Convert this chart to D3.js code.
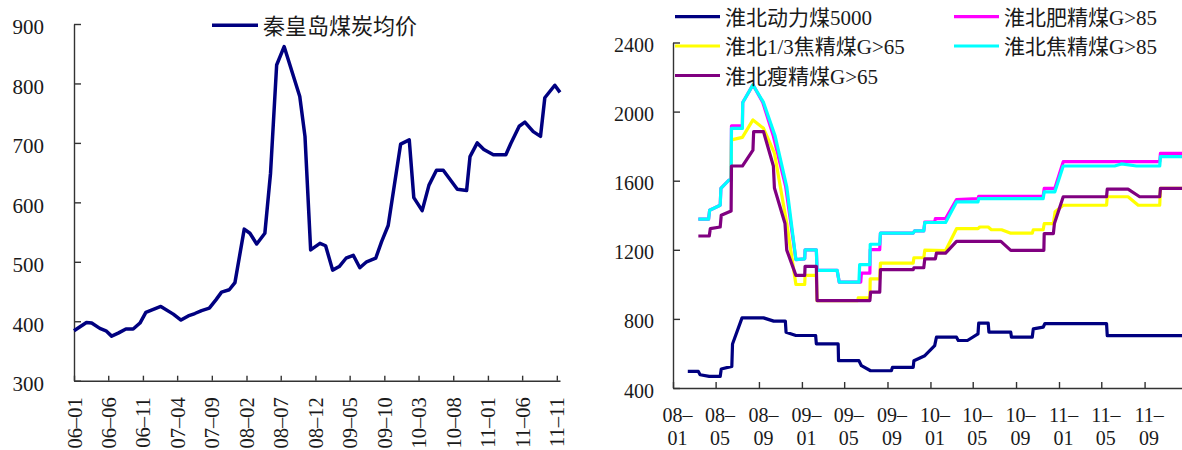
<!DOCTYPE html>
<html><head><meta charset="utf-8">
<script src="https://cdn.jsdelivr.net/npm/d3@7"></script>
<style>
html,body{margin:0;padding:0;background:#fff;overflow:hidden;}
svg{display:block;}
text{font-family:"Liberation Serif","Noto Sans CJK SC",serif;fill:#1a1a1a;}
.axis path,.axis line{stroke:#333;stroke-width:1.4;}
</style></head><body>
<svg id="c" width="1182" height="450"></svg>
<script>
// ---------- Left chart data ----------
const qhdName = '秦皇岛煤炭均价';
const qhdSeries = [['2006-01-01',384],['2006-02-25',398],['2006-03-20',397],['2006-04-25',388],['2006-05-22',384],['2006-06-16',375],['2006-07-15',380],['2006-08-18',387],['2006-09-19',387],['2006-10-19',397],['2006-11-14',415],['2007-01-19',425],['2007-03-15',412],['2007-04-18',402],['2007-05-20',409],['2007-06-18',413],['2007-07-18',418],['2007-08-21',422],['2007-09-19',436],['2007-10-14',449],['2007-11-17',453],['2007-12-12',465],['2008-01-22',555],['2008-02-16',548],['2008-03-17',530],['2008-04-22',548],['2008-05-17',649],['2008-06-13',831],['2008-07-16',862],['2008-09-23',778],['2008-10-16',711],['2008-11-10',520],['2008-12-21',531],['2009-01-15',527],['2009-02-15',486],['2009-03-16',492],['2009-04-15',506],['2009-05-17',511],['2009-06-15',490],['2009-07-15',500],['2009-08-24',506],['2009-09-19',534],['2009-10-18',561],['2009-12-12',698],['2010-01-19',705],['2010-02-08',608],['2010-03-17',586],['2010-04-16',629],['2010-05-19',654],['2010-06-18',654],['2010-08-19',622],['2010-09-29',620],['2010-10-14',677],['2010-11-15',700],['2010-12-14',689],['2011-01-25',680],['2011-03-21',680],['2011-04-12',699],['2011-05-19',728],['2011-06-13',735],['2011-07-20',719],['2011-08-21',711],['2011-09-09',776],['2011-10-23',797],['2011-11-15',785]];
const leftYTicks = [300,400,500,600,700,800,900];
const leftXTickLabels = ['06-01','06-06','06-11','07-04','07-09','08-02','08-07','08-12','09-05','09-10','10-03','10-08','11-01','11-06','11-11'];
const leftXDomain = ['2006-01-01','2011-11-15'];

// ---------- Right chart data ----------
const rightNames = ['淮北动力煤5000','淮北肥精煤G>85','淮北1/3焦精煤G>65','淮北焦精煤G>85','淮北瘦精煤G>65'];
const dongliSeries = [['2008-02-12',496],['2008-03-13',496],['2008-03-18',477],['2008-04-13',467],['2008-05-14',467],['2008-05-17',510],['2008-06-16',525],['2008-06-18',655],['2008-07-15',806],['2008-09-14',806],['2008-10-13',787],['2008-11-15',787],['2008-11-17',723],['2008-12-15',704],['2009-02-09',704],['2009-02-11',655],['2009-04-14',655],['2009-04-15',558],['2009-06-12',558],['2009-06-19',529],['2009-07-15',500],['2009-09-12',500],['2009-09-15',519],['2009-11-13',519],['2009-11-15',558],['2009-12-16',587],['2010-01-13',645],['2010-01-18',694],['2010-03-16',694],['2010-03-21',675],['2010-04-16',675],['2010-05-16',713],['2010-05-18',775],['2010-06-14',775],['2010-06-16',723],['2010-08-17',723],['2010-08-19',694],['2010-10-17',694],['2010-10-20',742],['2010-11-17',752],['2010-11-22',773],['2011-05-16',773],['2011-05-18',703],['2011-12-20',703]];
const fei85Series = [['2008-03-13',1377],['2008-04-11',1377],['2008-04-14',1429],['2008-05-14',1458],['2008-05-16',1555],['2008-06-08',1604],['2008-06-14',1604],['2008-06-15',1917],['2008-07-16',1917],['2008-07-17',2053],['2008-08-15',2155],['2008-09-12',2053],['2008-10-12',1858],['2008-11-16',1565],['2008-12-15',1143],['2009-01-09',1148],['2009-01-10',1200],['2009-02-11',1200],['2009-02-13',1081],['2009-04-11',1081],['2009-04-17',1013],['2009-06-17',1013],['2009-06-19',1065],['2009-07-13',1065],['2009-07-14',1201],['2009-08-10',1201],['2009-08-12',1297],['2009-11-13',1297],['2009-11-17',1309],['2009-12-13',1309],['2009-12-16',1361],['2010-01-13',1361],['2010-01-15',1381],['2010-02-13',1381],['2010-03-16',1491],['2010-05-16',1496],['2010-05-18',1510],['2010-11-17',1510],['2010-11-20',1555],['2010-12-20',1555],['2011-01-13',1710],['2011-10-14',1710],['2011-10-16',1758],['2011-12-20',1758]];
const jiao65Series = [['2008-06-14',1604],['2008-06-15',1836],['2008-07-16',1851],['2008-08-15',1952],['2008-09-14',1903],['2008-10-15',1760],['2008-11-19',1352],['2008-12-15',999],['2009-01-09',999],['2009-01-10',1052],['2009-02-11',1052],['2009-02-13',906],['2009-06-09',906],['2009-06-10',922],['2009-07-13',922],['2009-07-14',1032],['2009-08-10',1032],['2009-08-12',1123],['2009-11-13',1123],['2009-11-15',1154],['2009-12-13',1154],['2009-12-16',1198],['2010-02-13',1196],['2010-03-16',1322],['2010-05-16',1322],['2010-05-21',1332],['2010-06-14',1332],['2010-06-23',1316],['2010-07-22',1316],['2010-08-17',1296],['2010-10-17',1296],['2010-10-20',1316],['2010-11-17',1316],['2010-11-20',1351],['2010-12-16',1351],['2010-12-21',1420],['2011-01-13',1458],['2011-05-16',1458],['2011-05-18',1507],['2011-07-16',1507],['2011-08-14',1458],['2011-10-14',1458],['2011-10-16',1555],['2011-12-20',1555]];
const jiao85Series = [['2008-03-13',1377],['2008-04-11',1377],['2008-04-14',1429],['2008-05-14',1458],['2008-05-16',1555],['2008-06-08',1604],['2008-06-14',1604],['2008-06-15',1903],['2008-07-16',1903],['2008-07-17',2053],['2008-08-15',2155],['2008-09-14',2053],['2008-10-17',1858],['2008-11-19',1565],['2008-12-15',1143],['2009-01-09',1148],['2009-01-10',1200],['2009-02-11',1200],['2009-02-13',1081],['2009-04-11',1081],['2009-04-17',1013],['2009-06-12',1013],['2009-06-14',1114],['2009-07-13',1114],['2009-07-14',1232],['2009-08-10',1232],['2009-08-12',1297],['2009-11-13',1297],['2009-11-17',1309],['2009-12-13',1309],['2009-12-16',1358],['2010-02-13',1358],['2010-03-16',1477],['2010-05-16',1477],['2010-05-18',1496],['2010-11-17',1496],['2010-11-20',1535],['2010-12-20',1535],['2011-01-13',1685],['2011-06-08',1685],['2011-06-27',1697],['2011-08-09',1685],['2011-10-14',1685],['2011-10-16',1739],['2011-12-20',1739]];
const shou65Series = [['2008-03-13',1280],['2008-04-13',1280],['2008-04-16',1323],['2008-05-14',1332],['2008-05-17',1400],['2008-06-14',1425],['2008-06-15',1685],['2008-07-16',1685],['2008-08-15',1777],['2008-08-17',1884],['2008-09-14',1884],['2008-10-12',1685],['2008-10-15',1558],['2008-11-14',1352],['2008-11-19',1198],['2008-12-15',1052],['2009-01-09',1052],['2009-01-10',1104],['2009-02-11',1104],['2009-02-13',906],['2009-07-13',906],['2009-07-15',955],['2009-08-10',955],['2009-08-12',1085],['2009-11-13',1085],['2009-11-15',1096],['2009-12-13',1096],['2009-12-16',1148],['2010-01-15',1148],['2010-01-18',1181],['2010-02-13',1181],['2010-03-16',1249],['2010-07-20',1249],['2010-08-17',1197],['2010-11-19',1197],['2010-11-20',1294],['2010-12-16',1294],['2010-12-19',1352],['2011-01-13',1507],['2011-05-16',1507],['2011-05-18',1551],['2011-07-16',1551],['2011-08-18',1507],['2011-10-14',1507],['2011-10-16',1555],['2011-12-20',1555]];
const rightYTicks = [400,800,1200,1600,2000,2400];
const rightXTickLabels = ['08-01','08-05','08-09','09-01','09-05','09-09','10-01','10-05','10-09','11-01','11-05','11-09'];
const rightXDomain = ['2008-01-01','2011-12-31'];

// ---------- Drawing ----------
const FONT = '"Liberation Serif","Noto Sans CJK SC",serif';
const parseDay = d3.timeParse('%Y-%m-%d');
const parseTick = d3.timeParse('%y-%m');
const dash = s => s.replace('-', '–');
const svg = d3.select('#c');

// LEFT
(function(){
  const x = d3.scaleTime().domain(leftXDomain.map(parseDay)).range([74, 560]);
  const y = d3.scaleLinear().domain([300, 900]).range([380.7, 24]);
  const g = svg.append('g');
  const ya = g.append('g').attr('class','axis').attr('transform','translate(74,0)')
    .call(d3.axisLeft(y).tickValues(leftYTicks).tickSizeInner(-7).tickSizeOuter(0).tickPadding(30).tickFormat(d3.format('d')));
  ya.attr('font-family', FONT);
  ya.selectAll('text').attr('font-size',21).attr('font-family',FONT).attr('dy','0.47em').attr('fill','#1a1a1a');
  const xa = g.append('g').attr('class','axis').attr('transform','translate(0,380.7)')
    .call(d3.axisBottom(x).tickValues(leftXTickLabels.map(parseTick)).tickSizeInner(-5).tickSizeOuter(0)
      .tickFormat((d,i)=>dash(leftXTickLabels[i])));
  xa.attr('font-family', FONT);
  xa.selectAll('text').attr('font-size',20.5).attr('font-family',FONT).attr('transform','rotate(-90)')
    .attr('text-anchor','end').attr('x',-16.5).attr('y',7).attr('dy',null).attr('fill','#1a1a1a');
  g.append('path').datum(qhdSeries.map(d=>({date:parseDay(d[0]),value:d[1]})))
    .attr('fill','none').attr('stroke','#000080').attr('stroke-width',3.5).attr('stroke-linejoin','round')
    .attr('d', d3.line().x(d=>x(d.date)).y(d=>y(d.value)));
  // legend
  g.append('line').attr('x1',212).attr('x2',258).attr('y1',25.3).attr('y2',25.3)
    .attr('stroke','#000080').attr('stroke-width',3.5);
  g.append('text').attr('x',263).attr('y',33.5).attr('font-size',22).attr('font-family',FONT).text(qhdName);
})();

// RIGHT
(function(){
  const x = d3.scaleTime().domain(rightXDomain.map(parseDay)).range([673, 1187.2]);
  const y = d3.scaleLinear().domain([400, 2400]).range([388, 42.5]);
  const g = svg.append('g');
  const ya = g.append('g').attr('class','axis').attr('transform','translate(673,0)')
    .call(d3.axisLeft(y).tickValues(rightYTicks).tickSizeInner(-7).tickSizeOuter(0).tickPadding(19).tickFormat(d3.format('d')));
  ya.attr('font-family', FONT);
  ya.selectAll('text').attr('font-size',20).attr('font-family',FONT).attr('dy','0.45em').attr('fill','#1a1a1a');
  const xa = g.append('g').attr('class','axis').attr('transform','translate(0,388)')
    .call(d3.axisBottom(x).tickValues(rightXTickLabels.map(parseTick)).tickSizeInner(-6).tickSizeOuter(0).tickFormat(''));
  xa.attr('font-family', FONT);
  xa.selectAll('.tick').each(function(d,i){
    const parts = rightXTickLabels[i].split('-');
    const t = d3.select(this).select('text').attr('font-size',20).attr('font-family',FONT).attr('y',null).attr('dy',null)
      .attr('text-anchor','middle').attr('fill','#1a1a1a');
    t.append('tspan').attr('x',4).attr('y',34).text(parts[0] + '–');
    t.append('tspan').attr('x',4).attr('y',57).text(parts[1]);
  });
  const seriesList = [dongliSeries, fei85Series, jiao65Series, jiao85Series, shou65Series];
  const colors = ['#000080','#FF00FF','#FFFF00','#00FFFF','#800080'];
  const line = d3.line().x(d=>x(d.date)).y(d=>y(d.value));
  seriesList.forEach((s,i)=>{
    g.append('path').datum(s.map(d=>({date:parseDay(d[0]),value:d[1]})))
      .attr('fill','none').attr('stroke',colors[i]).attr('stroke-width',3.2).attr('stroke-linejoin','round')
      .attr('d', line);
  });
  // legend: two columns
  const legPos = [[675,16.7],[954,16.7],[675,46],[954,46],[675,75.5]];
  rightNames.forEach((n,i)=>{
    const [lx,ly] = legPos[i];
    g.append('line').attr('x1',lx).attr('x2',lx+45).attr('y1',ly).attr('y2',ly)
      .attr('stroke',colors[i]).attr('stroke-width',3.2);
    g.append('text').attr('x',lx+50).attr('y',ly+8.3).attr('font-size',21).attr('font-family',FONT).text(n);
  });
})();
</script>
</body></html>
